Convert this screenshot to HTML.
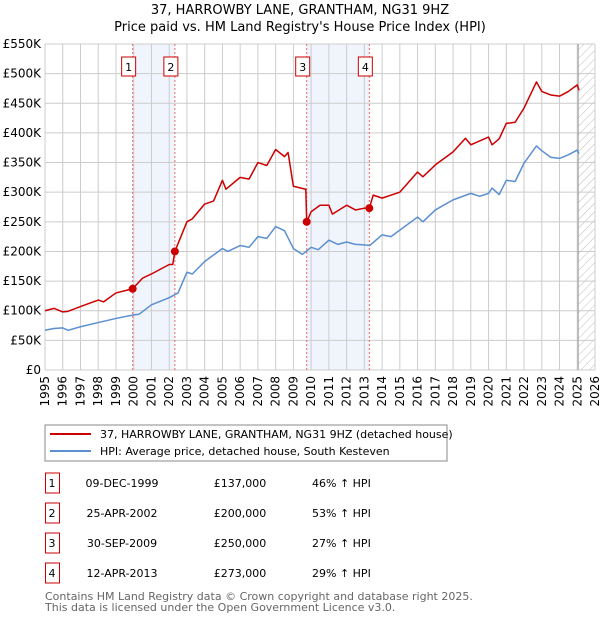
<!DOCTYPE html>
<html><head><meta charset="utf-8"><style>
body{margin:0;background:#fff;font-family:"Liberation Sans","DejaVu Sans",sans-serif;}
svg text{font-family:"DejaVu Sans","Liberation Sans",sans-serif;}
</style></head><body>
<svg id="c" width="600" height="620" xmlns="http://www.w3.org/2000/svg">
<defs><pattern id="hatch" width="6" height="6" patternUnits="userSpaceOnUse" patternTransform="rotate(45)"><line x1="0" y1="0" x2="0" y2="6" stroke="#bbb" stroke-width="1"/></pattern></defs>
<text x="300" y="14" text-anchor="middle" font-size="13" fill="#000">37, HARROWBY LANE, GRANTHAM, NG31 9HZ</text>
<text x="300" y="31" text-anchor="middle" font-size="13" fill="#000">Price paid vs. HM Land Registry's House Price Index (HPI)</text>
<g id="plot"></g>
<g>
<rect x="45" y="425" width="402" height="36" fill="#fff" stroke="#888"/>
<line x1="50" y1="434" x2="91" y2="434" stroke="#cc0000" stroke-width="2"/>
<text x="100" y="438" font-size="11">37, HARROWBY LANE, GRANTHAM, NG31 9HZ (detached house)</text>
<line x1="50" y1="451" x2="91" y2="451" stroke="#5b8fd0" stroke-width="2"/>
<text x="100" y="455" font-size="11">HPI: Average price, detached house, South Kesteven</text>
</g>
<g id="table"></g>
<text x="45" y="600" font-size="11" fill="#666">Contains HM Land Registry data © Crown copyright and database right 2025.</text>
<text x="45" y="611" font-size="11" fill="#666">This data is licensed under the Open Government Licence v3.0.</text>
</svg>
<script>
const hpiYears=[1995,1995.5,1996,1996.3,1997,1998,1999,2000,2000.3,2001,2002,2002.5,2003,2003.3,2004,2005,2005.3,2006,2006.5,2007,2007.5,2008,2008.5,2009,2009.5,2010,2010.4,2011,2011.5,2012,2012.5,2013,2013.3,2014,2014.5,2015,2016,2016.3,2017,2018,2019,2019.5,2020,2020.2,2020.6,2021,2021.5,2022,2022.7,2023,2023.5,2024,2024.5,2025,2025.1];
const hpiValues=[67,70,71,67,73,80,87,93,94,110,122,130,165,162,183,205,200,210,207,225,222,242,235,205,195,207,203,219,212,216,212,211,210,228,225,236,258,250,270,287,298,293,298,307,296,320,318,349,378,370,359,357,363,371,365];
const saleYears=[1999.94,2002.32,2009.75,2013.28];
const saleValues=[137,200,250,273];
const propYears=[1995,1995.5,1996,1996.3,1997,1998,1998.3,1999,1999.94,2000.5,2001,2002,2002.2,2002.32,2003,2003.3,2004,2004.5,2005,2005.2,2006,2006.5,2007,2007.5,2008,2008.5,2008.7,2009,2009.7,2009.75,2010,2010.5,2011,2011.2,2012,2012.5,2013,2013.28,2013.5,2014,2015,2016,2016.3,2017,2018,2018.7,2019,2020,2020.2,2020.6,2021,2021.5,2022,2022.7,2023,2023.5,2024,2024.5,2025,2025.1];
const propValues=[100,104,98,99,107,118,115,130,137,155,162,178,178,200,250,255,280,285,320,305,325,322,350,345,372,360,367,310,305,250,267,278,278,263,278,270,273,273,295,290,300,334,326,346,368,391,380,393,380,390,416,418,442,486,470,464,462,470,481,472];
const tickYears=[];for(let y=1995;y<=2026;y++)tickYears.push(y);
const tickValues=[0,50,100,150,200,250,300,350,400,450,500,550];
const tickLabels=["£0","£50K","£100K","£150K","£200K","£250K","£300K","£350K","£400K","£450K","£500K","£550K"];
const saleLabels=["1","2","3","4"];
const saleDates=["09-DEC-1999","25-APR-2002","30-SEP-2009","12-APR-2013"];
const salePrices=["£137,000","£200,000","£250,000","£273,000"];
const saleHpi=["46% ↑ HPI","53% ↑ HPI","27% ↑ HPI","29% ↑ HPI"];
const X0=45,X1=595,Y0=370,Y1=44;
const xs=y=>X0+(y-1995)/(2026-1995)*(X1-X0);
const ys=v=>Y0-v/550*(Y0-Y1);
const NS="http://www.w3.org/2000/svg";
const plot=document.getElementById('plot');
function mk(tag,attrs,parent){const e=document.createElementNS(NS,tag);for(const k in attrs)e.setAttribute(k,attrs[k]);(parent||plot).appendChild(e);return e;}
for(let i=0;i<saleYears.length;i+=2){const r=mk('rect',{x:xs(saleYears[i]),y:Y1,width:xs(saleYears[i+1])-xs(saleYears[i]),height:Y0-Y1,fill:'#f0f4fc'});

}
const hx=xs(2025.05);
const h=mk('rect',{x:hx,y:Y1,width:X1-hx,height:Y0-Y1,fill:'url(#hatch)'});


tickYears.forEach(y=>{const l=mk('line',{x1:xs(y),x2:xs(y),y1:Y1,y2:Y0,stroke:'#ccc','stroke-width':1});


const t=mk('text',{x:0,y:0,'font-size':12,'text-anchor':'end',transform:`translate(${xs(y)+4},${Y0+6}) rotate(-90)`});t.textContent=y;

});
tickValues.forEach((v,i)=>{const l=mk('line',{x1:X0,x2:X1,y1:ys(v),y2:ys(v),stroke:'#ccc','stroke-width':1});


const t=mk('text',{x:X0-4,y:ys(v)+4,'font-size':12,'text-anchor':'end'});t.textContent=tickLabels[i];

});
const nl=mk('line',{x1:hx,x2:hx,y1:Y1,y2:Y0,stroke:'#999','stroke-width':1});


saleYears.forEach((y,i)=>{const l=mk('line',{x1:xs(y),x2:xs(y),y1:Y1,y2:Y0,stroke:'#e66','stroke-width':1,'stroke-dasharray':'2,2'});


const b=mk('rect',{x:xs(y)-11,y:57,width:14,height:19,fill:'#fff',stroke:'#cc0000'});


const t=mk('text',{x:xs(y)-4,y:71,'font-size':11,'text-anchor':'middle'});t.textContent=saleLabels[i];

});
const line=(xa,va,col,name)=>{const p=mk('polyline',{points:xa.map((y,i)=>xs(y)+','+ys(va[i])).join(' '),fill:'none',stroke:col,'stroke-width':1.5,'stroke-linejoin':'round'});

};
line(hpiYears,hpiValues,'#5b8fd0','hpi-line');
line(propYears,propValues,'#cc0000','property-line');
saleYears.forEach((y,i)=>{const c=mk('circle',{cx:xs(y),cy:ys(saleValues[i]),r:4,fill:'#cc0000'});

});
const tb=document.getElementById('table');
saleLabels.forEach((s,i)=>{const yy=483+i*30;
const b=mk('rect',{x:45.5,y:yy-10,width:14,height:20,fill:'#fff',stroke:'#cc0000'},tb);


const cells=[[52,s,'middle','row-number'],[122,saleDates[i],'middle','row-date'],[240,salePrices[i],'middle','row-price'],[312,saleHpi[i],'start','row-hpi']];
cells.forEach(c=>{const t=mk('text',{x:c[0],y:yy+4,'font-size':11,'text-anchor':c[2]},tb);t.textContent=c[1];

});});
</script>
</body></html>
